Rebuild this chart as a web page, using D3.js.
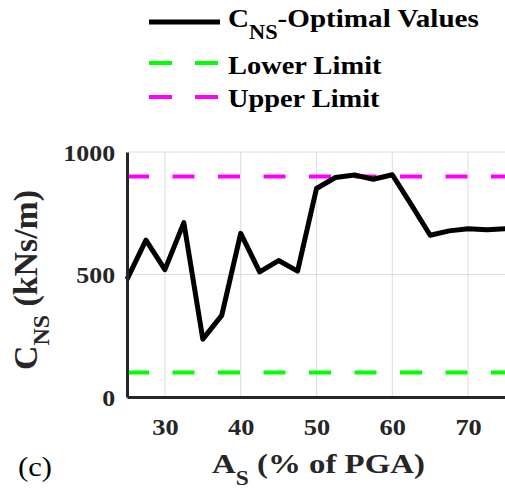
<!DOCTYPE html>
<html>
<head>
<meta charset="utf-8">
<script src="https://cdn.jsdelivr.net/npm/d3@7"></script>
<style>
  svg text, svg tspan { font-family: 'Liberation Serif', 'Times New Roman', Tinos, serif !important; }
</style>
</head>
<body style="margin:0">
<script>
// chart values
var accelPct = [25, 27.5, 30, 32.5, 35, 37.5, 40, 42.5, 45, 47.5, 50, 52.5, 55, 57.5, 60, 62.5, 65, 67.5, 70, 72.5, 75];
var cnsOptimal = [480, 640, 520, 712, 236, 333, 668, 511, 557, 514, 851, 896, 906, 889, 907, 785, 660, 678, 687, 683, 687];
var lowerLimit = 100;
var upperLimit = 900;
var xTicks = [30, 40, 50, 60, 70];
var yTicks = [0, 500, 1000];

var width = 505, height = 490;
var margin = {left: 127, top: 152, right: -1, bottom: 93};
var fontName = "Liberation Serif";
var axisColor = "#262626";

var svg = d3.select("body").append("svg")
    .attr("width", width)
    .attr("height", height)
    .attr("font-family", fontName)
    .style("display", "block");

var x = d3.scaleLinear().domain([25, 75]).range([margin.left, width - margin.right]);
var y = d3.scaleLinear().domain([0, 1000]).range([height - margin.bottom, margin.top]);

// stretch a text horizontally about its anchor so it spans w pixels
function fit(sel, x0, w) {
    var bw = sel.node().getBBox().width;
    var k = w / bw;
    sel.attr("transform", "translate(" + x0 + ",0) scale(" + k + ",1) translate(" + (-x0) + ",0)");
}

// gridlines
var grid = svg.append("g").attr("class", "grid");
grid.selectAll("line.vx")
    .data(xTicks)
    .enter().append("line")
    .attr("x1", d => x(d)).attr("x2", d => x(d))
    .attr("y1", y(0)).attr("y2", y(1000))
    .attr("stroke", "#dcdcdc").attr("stroke-width", 1);
grid.selectAll("line.hy")
    .data(yTicks.filter(d => d > 0))
    .enter().append("line")
    .attr("x1", x(25)).attr("x2", width)
    .attr("y1", d => y(d)).attr("y2", d => y(d))
    .attr("stroke", "#dcdcdc").attr("stroke-width", 1);

// limit lines
function limitLine(val, col) {
    svg.append("line")
        .attr("x1", x(25)).attr("x2", width)
        .attr("y1", y(val)).attr("y2", y(val))
        .attr("stroke", col)
        .attr("stroke-width", 4)
        .attr("stroke-dasharray", "22,23.5");
}
limitLine(lowerLimit, "#00ff00");
limitLine(upperLimit, "#ff00ff");

// optimal values
var line = d3.line()
    .x((d, i) => x(accelPct[i]))
    .y(d => y(d));

svg.append("path")
    .datum(cnsOptimal)
    .attr("d", line)
    .attr("fill", "none")
    .attr("stroke", "#000")
    .attr("stroke-width", 5)
    .attr("stroke-linejoin", "round");

// axes
var yAxis = svg.append("g")
    .attr("transform", "translate(" + margin.left + ",0)")
    .call(d3.axisLeft(y).tickValues(yTicks).tickSize(0).tickPadding(11).tickFormat(d3.format("d")));
yAxis.attr("font-family", fontName).attr("font-size", 24).attr("font-weight", "bold");
yAxis.select(".domain").attr("stroke", axisColor).attr("stroke-width", 3);
yAxis.selectAll("text")
    .attr("fill", axisColor)
    .attr("dy", "0.34em")
    .attr("transform", "scale(1.08,1)");

var xAxis = svg.append("g")
    .attr("transform", "translate(0," + y(0) + ")")
    .call(d3.axisBottom(x).tickValues(xTicks).tickSize(0).tickFormat(d3.format("d")));
xAxis.attr("font-family", fontName).attr("font-size", 24).attr("font-weight", "bold");
xAxis.select(".domain").attr("stroke", axisColor).attr("stroke-width", 3);
xAxis.selectAll("text")
    .attr("fill", axisColor)
    .attr("dy", null)
    .attr("y", 38)
    .attr("transform", "scale(1.1,1)");

// axis labels
var xl = svg.append("text")
    .attr("x", 212).attr("y", 473)
    .attr("fill", axisColor)
    .attr("font-size", 28)
    .attr("font-weight", "bold");
xl.append("tspan").text("A");
xl.append("tspan").attr("dy", 12).attr("font-size", 20).text("S");
xl.append("tspan").attr("dy", -12).text(" (% of PGA)");
fit(xl, 212, 213);

var ylg = svg.append("g").attr("transform", "translate(37,280) rotate(-90)");
var yl = ylg.append("text")
    .attr("text-anchor", "middle")
    .attr("fill", axisColor)
    .attr("font-size", 31)
    .attr("font-weight", "bold");
yl.append("tspan").text("C");
yl.append("tspan").attr("dy", 11).attr("font-size", 22).text("NS");
yl.append("tspan").attr("dy", -11).text(" (kNs/m)");
var ylw = yl.node().getBBox().width;
yl.attr("transform", "scale(" + (180 / ylw) + ",1.08)");

var panel = svg.append("text")
    .attr("x", 18).attr("y", 476)
    .attr("fill", "#000")
    .attr("font-size", 27)
    .text("(c)");
fit(panel, 18, 34);

// legend
var legend = svg.append("g");
legend.append("line")
    .attr("x1", 149).attr("x2", 220).attr("y1", 22).attr("y2", 22)
    .attr("stroke", "#000").attr("stroke-width", 5);
legend.append("line")
    .attr("x1", 149).attr("x2", 220).attr("y1", 63).attr("y2", 63)
    .attr("stroke", "#00ff00").attr("stroke-width", 4).attr("stroke-dasharray", "23,23");
legend.append("line")
    .attr("x1", 149).attr("x2", 220).attr("y1", 97).attr("y2", 97)
    .attr("stroke", "#ff00ff").attr("stroke-width", 4).attr("stroke-dasharray", "23,23");

var t1 = legend.append("text").attr("x", 228).attr("y", 27)
    .attr("font-size", 26).attr("font-weight", "bold");
t1.append("tspan").text("C");
t1.append("tspan").attr("dy", 12).attr("font-size", 20).text("NS");
t1.append("tspan").attr("dy", -12).text("-Optimal Values");
fit(t1, 228, 251);

var t2 = legend.append("text").attr("x", 228).attr("y", 74)
    .attr("font-size", 26).attr("font-weight", "bold")
    .text("Lower Limit");
fit(t2, 228, 154);
var t3 = legend.append("text").attr("x", 228).attr("y", 107)
    .attr("font-size", 26).attr("font-weight", "bold")
    .text("Upper Limit");
fit(t3, 228, 152);
</script>
</body>
</html>
